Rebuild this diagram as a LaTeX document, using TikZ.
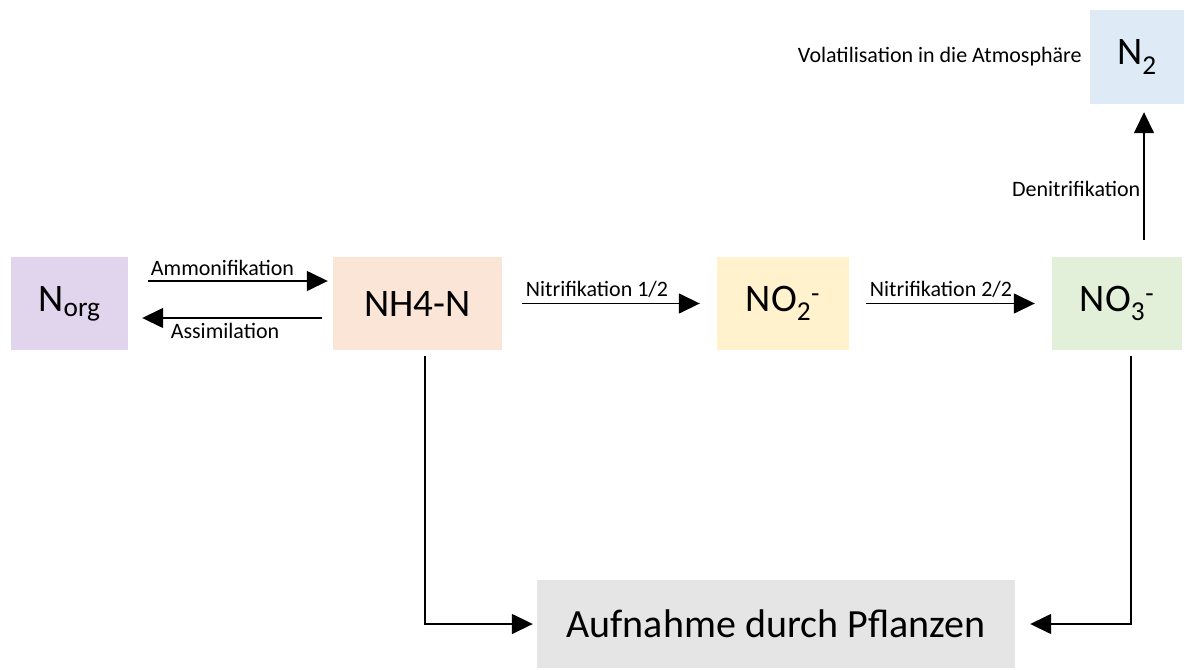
\documentclass[tikz,border=0pt]{standalone}
\usepackage{fontspec}
\setmainfont{Carlito}
\usepackage{tikz}
\usetikzlibrary{arrows.meta,positioning}
\definecolor{nlila}{RGB}{225,213,238}
\definecolor{npeach}{RGB}{251,229,214}
\definecolor{nyellow}{RGB}{255,242,204}
\definecolor{ngreen}{RGB}{226,240,217}
\definecolor{nblue}{RGB}{222,235,247}
\definecolor{ngray}{RGB}{229,229,229}
\tikzstyle{arrow} = [line width=1.5pt,-{Triangle[length=21pt,width=20pt]}]
\tikzstyle{pool} = [rectangle, inner sep=0pt, minimum height=93pt, text centered, font=\fontsize{39}{42}\selectfont]
\tikzstyle{lbl} = [font=\fontsize{22}{25}\selectfont, inner sep=3pt]

\begin{document}
\begin{tikzpicture}[x=1pt, y=-1pt]
\useasboundingbox (0,0) rectangle (1185,669);
% Stickstoff-Pools
\node[pool, minimum width=117pt, fill=nlila] (norg) at (69.5,303.5) {N\textsubscript{org}};
\node[pool, minimum width=169pt, fill=npeach] (nh4) at (417.5,303.5) {NH4-N};
\node[pool, minimum width=132pt, fill=nyellow] (no2) at (783,303.5) {NO\textsubscript{2}\textsuperscript{-}};
\node[pool, minimum width=130pt, fill=ngreen] (no3) at (1117,303.5) {NO\textsubscript{3}\textsuperscript{-}};
\node[pool, minimum width=94pt, minimum height=94pt, fill=nblue] (n2) at (1137,57) {N\textsubscript{2}};
\node[pool, minimum width=478pt, minimum height=88pt, fill=ngray, font=\fontsize{40}{43}\selectfont] (pflanzen) at (776,624) {Aufnahme durch Pflanzen};

\node[lbl, left=5pt of n2] (volat) {Volatilisation in die Atmosphäre};

% Umwandlungen
\draw[arrow] ([xshift=20pt,yshift=22.5pt]norg.east) -- ([xshift=-5pt,yshift=22.5pt]nh4.west)
  node[lbl, pos=0, anchor=south west, xshift=-1pt, yshift=2pt] {Ammonifikation};
\draw[arrow] ([xshift=-11pt,yshift=-14.5pt]nh4.west) -- ([xshift=14pt,yshift=-14.5pt]norg.east)
  node[lbl, midway, below, xshift=-7pt, yshift=-1pt] {Assimilation};
\draw[arrow] ([xshift=20pt]nh4.east) -- ([xshift=-17pt]no2.west)
  node[lbl, pos=0, anchor=south west, yshift=2pt] {Nitrifikation 1/2};
\draw[arrow] ([xshift=17pt]no2.east) -- ([xshift=-17pt]no3.west)
  node[lbl, pos=0, anchor=south west, yshift=2pt] {Nitrifikation 2/2};
\draw[arrow] ([xshift=27pt,yshift=17pt]no3.north) -- ([xshift=7pt,yshift=-8pt]n2.south)
  node[lbl, pos=0.4, left, xshift=0pt] {Denitrifikation};

% Aufnahme
\draw[arrow] ([xshift=7.5pt,yshift=-6pt]nh4.south) |- ([xshift=-4pt]pflanzen.west);
\draw[arrow] ([xshift=14pt,yshift=-6pt]no3.south) |- ([xshift=15pt]pflanzen.east);
\end{tikzpicture}
\end{document}
